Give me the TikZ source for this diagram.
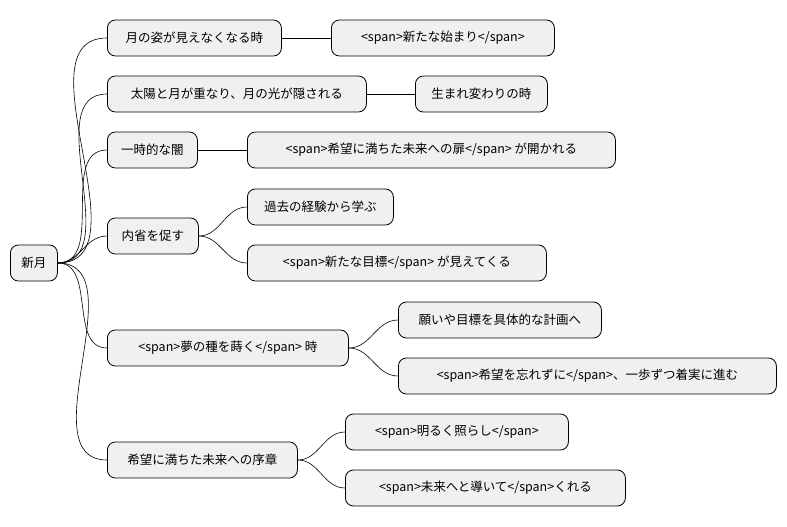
\documentclass[tikz,border=0pt]{standalone}
\usepackage{fontspec}
\setmainfont{Noto Sans CJK JP}
\begin{document}
\begin{tikzpicture}[x=1pt,y=-1pt,
 box/.style={draw=black,fill=black!6,rounded corners=8pt,line width=0.8pt,anchor=west,minimum height=36pt,inner sep=0pt,align=center,font=\fontsize{12.5}{14}\selectfont},
 link/.style={draw=black,line width=0.6pt}]
\useasboundingbox (0,0) rectangle (787,527);
\node[box,minimum width=47pt] (r) at (10,263) {新月};
\node[box,minimum width=174pt] (a) at (107,38) {月の姿が見えなくなる時};
\node[box,minimum width=259pt] (b) at (107,94) {太陽と月が重なり、月の光が隠される};
\node[box,minimum width=90pt] (c) at (107,150) {一時的な闇};
\node[box,minimum width=91pt] (d) at (107,236) {内省を促す};
\node[box,minimum width=241pt] (e) at (107,348) {<span>夢の種を蒔く</span> 時};
\node[box,minimum width=190pt] (f) at (107,460) {希望に満ちた未来への序章};
\node[box,minimum width=223pt] (a1) at (331,38) {<span>新たな始まり</span>};
\node[box,minimum width=132pt] (b1) at (415,94) {生まれ変わりの時};
\node[box,minimum width=368pt] (c1) at (247,150) {<span>希望に満ちた未来への扉</span> が開かれる};
\node[box,minimum width=146pt] (d1) at (247,207) {過去の経験から学ぶ};
\node[box,minimum width=299pt] (d2) at (247,263) {<span>新たな目標</span> が見えてくる};
\node[box,minimum width=203pt] (e1) at (398,320) {願いや目標を具体的な計画へ};
\node[box,minimum width=378pt] (e2) at (398,376) {<span>希望を忘れずに</span>、一歩ずつ着実に進む};
\node[box,minimum width=223pt] (f1) at (345,432) {<span>明るく照らし</span>};
\node[box,minimum width=280pt] (f2) at (345,488) {<span>未来へと導いて</span>くれる};
\foreach \c in {a,b,c,d,e,f} \draw[link] (r.east) to[out=0,in=180] (\c.west);
\draw[link] (a.east) -- (a1.west);
\draw[link] (b.east) -- (b1.west);
\draw[link] (c.east) -- (c1.west);
\draw[link] (d.east) to[out=0,in=180] (d1.west);
\draw[link] (d.east) to[out=0,in=180] (d2.west);
\draw[link] (e.east) to[out=0,in=180] (e1.west);
\draw[link] (e.east) to[out=0,in=180] (e2.west);
\draw[link] (f.east) to[out=0,in=180] (f1.west);
\draw[link] (f.east) to[out=0,in=180] (f2.west);
\end{tikzpicture}
\end{document}
